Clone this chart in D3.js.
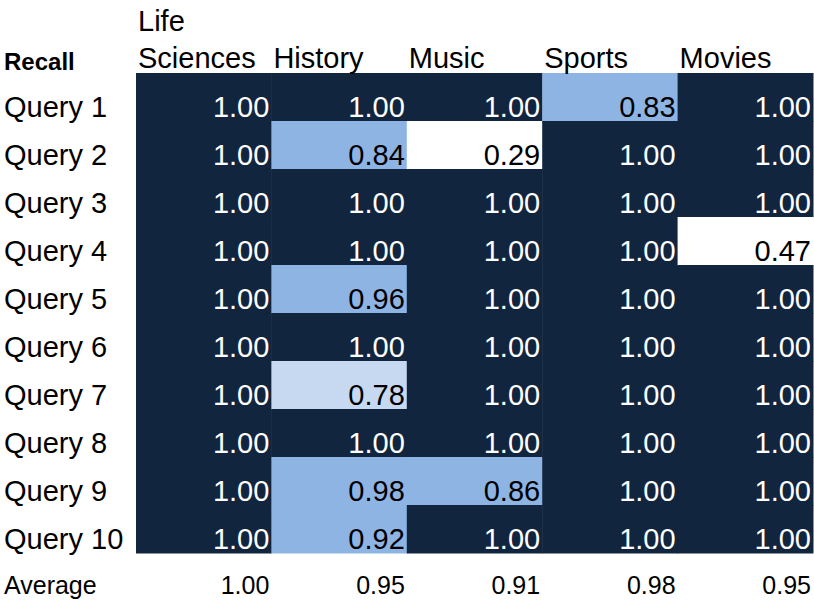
<!DOCTYPE html>
<html>
<head>
<meta charset="utf-8">
<script src="https://cdn.jsdelivr.net/npm/d3@7"></script>
<style>
  body { margin: 0; background: #fff; }
  text { font-family: "Liberation Sans", Arial, sans-serif; }
</style>
</head>
<body>
<svg id="chart" width="814" height="605"></svg>
<script>
const topics = ["Life Sciences", "History", "Music", "Sports", "Movies"];
const queries = ["Query 1", "Query 2", "Query 3", "Query 4", "Query 5",
  "Query 6", "Query 7", "Query 8", "Query 9", "Query 10"];
// recall per query, one array per topic
const lifeSciences = [1.00, 1.00, 1.00, 1.00, 1.00, 1.00, 1.00, 1.00, 1.00, 1.00];
const history = [1.00, 0.84, 1.00, 1.00, 0.96, 1.00, 0.78, 1.00, 0.98, 0.92];
const music = [1.00, 0.29, 1.00, 1.00, 1.00, 1.00, 1.00, 1.00, 0.86, 1.00];
const sports = [0.83, 1.00, 1.00, 1.00, 1.00, 1.00, 1.00, 1.00, 1.00, 1.00];
const movies = [1.00, 1.00, 1.00, 0.47, 1.00, 1.00, 1.00, 1.00, 1.00, 1.00];
const averages = [1.00, 0.95, 0.91, 0.98, 0.95];

const seriesList = [lifeSciences, history, music, sports, movies];

const svg = d3.select("#chart");

const x = d3.scaleBand().domain(topics).range([136, 813]);
const y = d3.scaleBand().domain(queries).range([73, 553]);

const color = d3.scaleThreshold()
  .domain([0.5, 0.8, 0.995])
  .range(["#ffffff", "#c6d9f0", "#8eb4e3", "#12253f"]);

const cells = [];
topics.forEach((t, i) => {
  queries.forEach((q, j) => {
    cells.push({ topic: t, query: q, value: seriesList[i][j] });
  });
});

const g = svg.append("g");

g.selectAll("rect")
  .data(cells)
  .enter()
  .append("rect")
  .attr("x", d => x(d.topic))
  .attr("y", d => y(d.query))
  .attr("width", x.bandwidth() + 0.5)
  .attr("height", y.bandwidth() + 0.5)
  .attr("fill", d => color(d.value));

g.selectAll(".val")
  .data(cells)
  .enter()
  .append("text")
  .attr("class", "val")
  .attr("x", d => x(d.topic) + x.bandwidth() - 2)
  .attr("y", d => y(d.query) + y.bandwidth() - 4)
  .attr("text-anchor", "end")
  .attr("font-size", 29)
  .attr("fill", d => d.value >= 0.995 ? "#ffffff" : "#000000")
  .text(d => d.value.toFixed(2));

// row labels
svg.selectAll(".rowlab")
  .data(queries)
  .enter()
  .append("text")
  .attr("class", "rowlab")
  .attr("x", 4)
  .attr("y", d => y(d) + y.bandwidth() - 4)
  .attr("font-size", 29)
  .attr("fill", "#000")
  .text(d => d);

// column headers
const header = svg.selectAll(".collab")
  .data(topics)
  .enter()
  .append("text")
  .attr("class", "collab")
  .attr("font-size", 29)
  .attr("fill", "#000");

header.each(function(d) {
  const words = d.split(" ");
  const el = d3.select(this);
  const lines = words.length > 1 ? words : [d];
  lines.forEach((w, k) => {
    el.append("tspan")
      .attr("x", x(d) + 2)
      .attr("y", 68 - (lines.length - 1 - k) * 37)
      .text(w);
  });
});

svg.append("text")
  .attr("x", 4)
  .attr("y", 70)
  .attr("font-size", 24)
  .attr("font-weight", "bold")
  .text("Recall");

// average row
svg.append("text")
  .attr("x", 4)
  .attr("y", 594)
  .attr("font-size", 25)
  .text("Average");

svg.selectAll(".avg")
  .data(averages)
  .enter()
  .append("text")
  .attr("class", "avg")
  .attr("x", (d, i) => x(topics[i]) + x.bandwidth() - 2)
  .attr("y", 594)
  .attr("text-anchor", "end")
  .attr("font-size", 25)
  .text(d => d.toFixed(2));
</script>
</body>
</html>
